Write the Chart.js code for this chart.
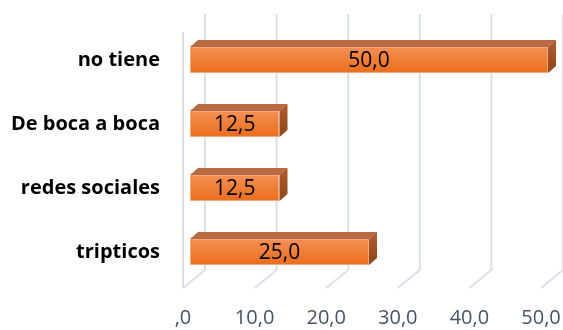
<!DOCTYPE html>
<html><head><meta charset="utf-8">
<script src="https://cdn.jsdelivr.net/npm/chart.js@4/dist/chart.umd.min.js"></script>
<style>html,body{margin:0;padding:0;background:#fff;}canvas{display:block;}</style>
</head><body>
<canvas id="c" width="563" height="330"></canvas>
<script>
const categories = ['no tiene', 'De boca a boca', 'redes sociales', 'tripticos'];
const values = [50.0, 12.5, 12.5, 25.0];
const tickValues = [0, 10, 20, 30, 40, 50];

function fmt(v){ return v === 0 ? ',0' : v.toFixed(1).replace('.', ','); }

const BAR_DX = 8, BAR_DY = -7;
const WALL_DX = 22, WALL_DY = -18;
const FLOOR_SHIFT = -7;
const GRID = '#dcdfe8';

const wallPlugin = {
  id: 'wall',
  beforeDatasetsDraw(chart){
    const {ctx, chartArea, scales:{x}} = chart;
    ctx.save();
    ctx.strokeStyle = GRID; ctx.lineWidth = 2;
    const floorY = chartArea.bottom + 4;
    const topY = 14;
    tickValues.forEach((v, i) => {
      const fx = x.getPixelForValue(v) + FLOOR_SHIFT;
      const bx = fx + WALL_DX;
      ctx.beginPath();
      ctx.moveTo(fx, floorY);
      ctx.lineTo(bx, floorY + WALL_DY);
      ctx.lineTo(bx, topY);
      ctx.stroke();
      if (i === 0) {
        ctx.beginPath();
        ctx.moveTo(fx, floorY);
        ctx.lineTo(fx, topY - WALL_DY);
        ctx.stroke();
      }
    });
    ctx.restore();
  }
};

const facesPlugin = {
  id: 'faces',
  afterDatasetsDraw(chart){
    const {ctx} = chart;
    const meta = chart.getDatasetMeta(0);
    ctx.save();
    meta.data.forEach((bar, i) => {
      const left = bar.base, right = bar.x;
      const top = bar.y - bar.height/2, bottom = bar.y + bar.height/2;
      ctx.fillStyle = '#b8693f';
      ctx.beginPath();
      ctx.moveTo(left, top);
      ctx.lineTo(left + BAR_DX, top + BAR_DY);
      ctx.lineTo(right + BAR_DX, top + BAR_DY);
      ctx.lineTo(right, top);
      ctx.closePath(); ctx.fill();
      const g = ctx.createLinearGradient(0, top, 0, bottom);
      g.addColorStop(0, '#a95a2c'); g.addColorStop(1, '#8e4416');
      ctx.fillStyle = g;
      ctx.beginPath();
      ctx.moveTo(right, top);
      ctx.lineTo(right + BAR_DX, top + BAR_DY);
      ctx.lineTo(right + BAR_DX, bottom + BAR_DY);
      ctx.lineTo(right, bottom);
      ctx.closePath(); ctx.fill();
      ctx.fillStyle = '#000';
      ctx.font = '21px "Open Sans", sans-serif';
      ctx.textAlign = 'center'; ctx.textBaseline = 'middle';
      ctx.fillText(fmt(values[i]), (left + right)/2, bar.y + 1);
    });
    ctx.restore();
  }
};

new Chart(document.getElementById('c'), {
  type: 'bar',
  data: {
    labels: categories,
    datasets: [{
      data: values,
      backgroundColor: (c) => {
        const chart = c.chart;
        if (!chart.chartArea || c.dataIndex === undefined) return '#ef7a2e';
        const y = chart.scales.y.getPixelForValue(c.dataIndex);
        const g = chart.ctx.createLinearGradient(0, y - 13, 0, y + 13);
        g.addColorStop(0, '#f58f55');
        g.addColorStop(1, '#e96d1c');
        return g;
      },
      borderColor: '#f3a77a',
      borderWidth: 1,
      borderSkipped: false,
      barPercentage: 0.8,
      categoryPercentage: 0.51
    }]
  },
  options: {
    indexAxis: 'y',
    responsive: false,
    animation: false,
    layout: { padding: { left: 0, right: 15, top: 28, bottom: 0 } },
    plugins: { legend: { display: false }, tooltip: { enabled: false } },
    scales: {
      x: {
        min: 0, max: 50,
        afterFit(s){ s.height = 46; s.paddingLeft = 0; s.paddingRight = 0; },
        afterBuildTicks(s){ s.ticks = tickValues.map(v => ({value: v})); },
        grid: { display: false, drawTicks: false },
        border: { display: false },
        ticks: {
          callback: (v) => fmt(v),
          color: '#44546a',
          font: { family: '"Open Sans", sans-serif', size: 20 },
          padding: 22,
          labelOffset: -7,
          maxRotation: 0
        }
      },
      y: {
        afterFit(s){ s.width = 190; s.paddingTop = 0; s.paddingBottom = 0; },
        grid: { display: false, drawTicks: false },
        border: { display: false },
        ticks: {
          color: '#000',
          font: { family: '"Open Sans", sans-serif', size: 20, weight: 'bold' },
          padding: 30
        }
      }
    }
  },
  plugins: [wallPlugin, facesPlugin]
});
</script>
</body></html>
